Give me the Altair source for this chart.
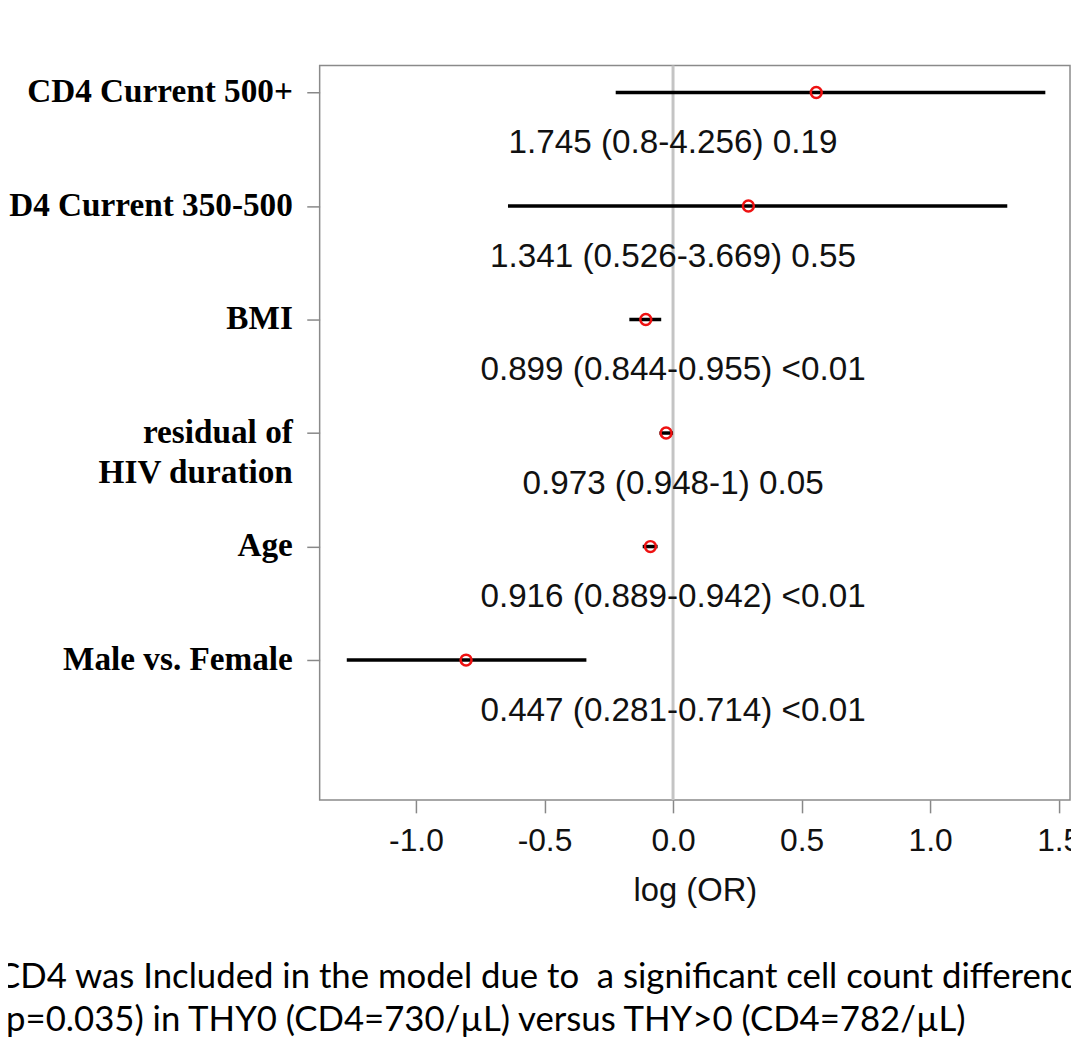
import altair as alt
import pandas as pd

labels = ["CD4 Current 500+", "CD4 Current 350-500", "BMI",
          "residual of\nHIV duration", "Age", "Male vs. Female"]
rows = [6, 5, 4, 3, 2, 1]
log_or = [0.557, 0.293, -0.106, -0.027, -0.088, -0.805]
ci_low = [-0.223, -0.642, -0.170, -0.053, -0.118, -1.269]
ci_high = [1.448, 1.300, -0.046, 0.000, -0.060, -0.337]
notes = ["1.745 (0.8-4.256) 0.19", "1.341 (0.526-3.669) 0.55",
         "0.899 (0.844-0.955) <0.01", "0.973 (0.948-1) 0.05",
         "0.916 (0.889-0.942) <0.01", "0.447 (0.281-0.714) <0.01"]
x_ticks = [-1.0, -0.5, 0.0, 0.5, 1.0, 1.5]
caption = ["CD4 was Included in the model due to \u00a0a significant cell count difference",
           "(p=0.035) in THY0 (CD4=730/\u00b5L) versus THY>0 (CD4=782/\u00b5L)"]

df = pd.DataFrame(dict(label=labels, row=rows, est=log_or, lo=ci_low,
                       hi=ci_high, note=notes))
cap_df = pd.DataFrame({"t": ["\n".join(caption)]})

xs = alt.Scale(domain=[-1.3745, 1.544], nice=False, zero=False)
ys = alt.Scale(domain=[-0.232, 6.238], nice=False, zero=False)

xaxis = alt.Axis(values=x_ticks,
                 labelExpr="datum.value < 0 ? '-' + format(-datum.value, '.1f') : format(datum.value, '.1f')",
                 title="log (OR)", grid=False, domain=False,
                 tickColor="#888888", tickSize=13, tickWidth=1.5,
                 labelFont="Liberation Sans", labelFontSize=32, labelColor="#111111",
                 labelPadding=13, labelFlush=False, labelOverlap=False,
                 titleFont="Liberation Sans", titleFontSize=33, titleFontWeight="normal",
                 titleColor="#111111", titlePadding=18)
yaxis = alt.Axis(values=rows, labels=False, title=None, grid=False, domain=False,
                 tickColor="#888888", tickSize=13, tickWidth=1.5)

base = alt.Chart(df)

zero_line = alt.Chart(pd.DataFrame({"z": [0]})).mark_rule(
    color="#c4c4c4", strokeWidth=3).encode(
    x=alt.X("z:Q", scale=xs, axis=xaxis))

ci = base.mark_rule(color="black", strokeWidth=3.5).encode(
    x=alt.X("lo:Q", scale=xs, axis=xaxis),
    x2="hi:Q",
    y=alt.Y("row:Q", scale=ys, axis=yaxis))

pts = base.mark_point(shape="circle", filled=False, color="#ee1111",
                      strokeWidth=2.5, size=120, opacity=1).encode(
    x=alt.X("est:Q", scale=xs, axis=xaxis),
    y=alt.Y("row:Q", scale=ys, axis=yaxis))

note_txt = base.mark_text(font="Liberation Sans", fontSize=33.5, baseline="middle",
                          align="center", dy=51, color="#111111").encode(
    x=alt.X("z:Q", scale=xs, axis=xaxis),
    y=alt.Y("row:Q", scale=ys, axis=yaxis),
    text="note:N").transform_calculate(z="0")

label_txt = base.mark_text(font="Liberation Serif", fontWeight="bold", fontSize=33.5,
                           align="right", baseline="middle", lineBreak="\n",
                           lineHeight=40, color="black").encode(
    x=alt.value(-27),
    y=alt.Y("row:Q", scale=ys, axis=yaxis),
    text="label:N")

cap_txt = alt.Chart(cap_df).mark_text(font="Lato", fontSize=35, align="left",
                                      baseline="alphabetic", lineBreak="\n",
                                      lineHeight=44, color="black").encode(
    x=alt.value(-325), y=alt.value(929), text="t:N")

chart = alt.layer(zero_line, ci, pts, note_txt, label_txt, cap_txt).properties(
    width=756, height=740,
    autosize=alt.AutoSizeParams(type="none"),
    padding={"left": 314, "top": 54, "right": 1, "bottom": 240},
    background="white",
).configure_view(stroke="#8a8a8a", strokeWidth=1.5)

chart.save("out.html", embed_options={"renderer": "svg", "actions": False})
